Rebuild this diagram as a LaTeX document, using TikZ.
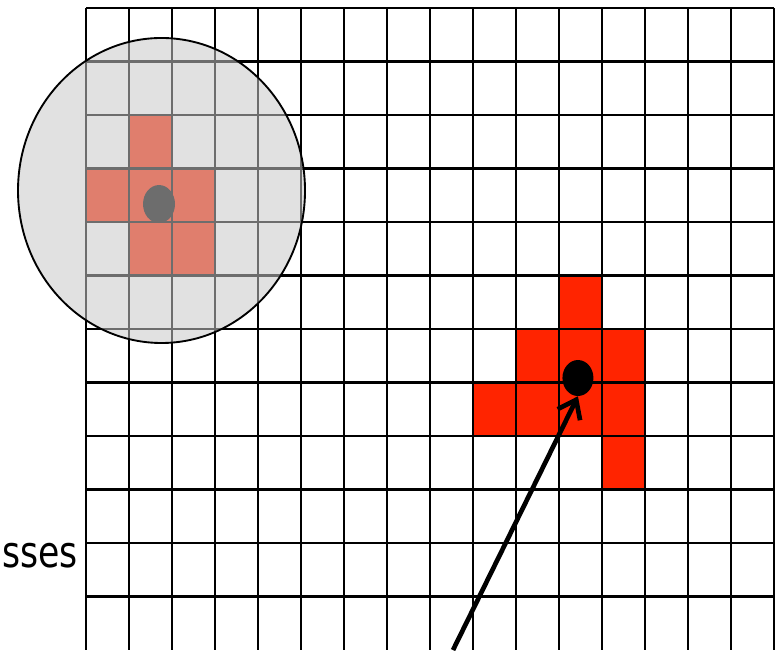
\documentclass[tikz,border=0pt]{standalone}
\usepackage{fontspec}
\setmainfont{DejaVu Sans}
\usepackage{xcolor}
\usetikzlibrary{shapes.geometric,arrows.meta,positioning}

\definecolor{hot}{RGB}{255,36,0}
\definecolor{lens}{RGB}{200,200,200}

\tikzset{
    cell/.style={fill=hot, draw=none},
    gridline/.style={line width=2.5pt},
    blob/.style={draw=none, fill=black, ellipse, inner sep=0pt},
    lensarea/.style={ellipse, draw=black, line width=1.6pt, fill=lens, fill opacity=0.55, draw opacity=1, inner sep=0pt},
    pointer/.style={line width=4pt, -{Straight Barb[length=5mm, width=7.5mm, line width=4pt]}}
}

\begin{document}
\begin{tikzpicture}[x=1.29cm, y=-1.605cm]
    \useasboundingbox (-2,-0.1495) rectangle (16.209,12);

    % occupied cells
    \foreach \c/\r in {1/2, 0/3, 1/3, 2/3, 1/4, 2/4,
                       11/5, 10/6, 11/6, 12/6, 9/7, 10/7, 11/7, 12/7, 12/8}
        \fill[cell] (\c,\r) rectangle ++(1,1);

    % grid
    \foreach \i in {0,...,16}
        \draw[gridline] (\i,0) -- (\i,12);
    \foreach \j in {0,...,11}
        \draw[gridline] (0,\j) -- (16,\j);

    \node[blob, minimum width=0.93cm, minimum height=1.08cm] (target) at (11.44,6.916) {};
    \node[blob, minimum width=0.96cm, minimum height=1.14cm] (ghost) at (1.698,3.664) {};

    % search window
    \node[lensarea, minimum width=8.61cm, minimum height=9.15cm] (window) at (1.756,3.411) {};

    \node[anchor=base east, inner sep=0pt, font=\fontsize{37}{44}\selectfont] (lbl) at (-0.19,10.449) {\scalebox{0.8}[1]{sses}};

    \coordinate (src) at (8.535,12);
    \draw[pointer] (src) -- (target.south);
\end{tikzpicture}
\end{document}
